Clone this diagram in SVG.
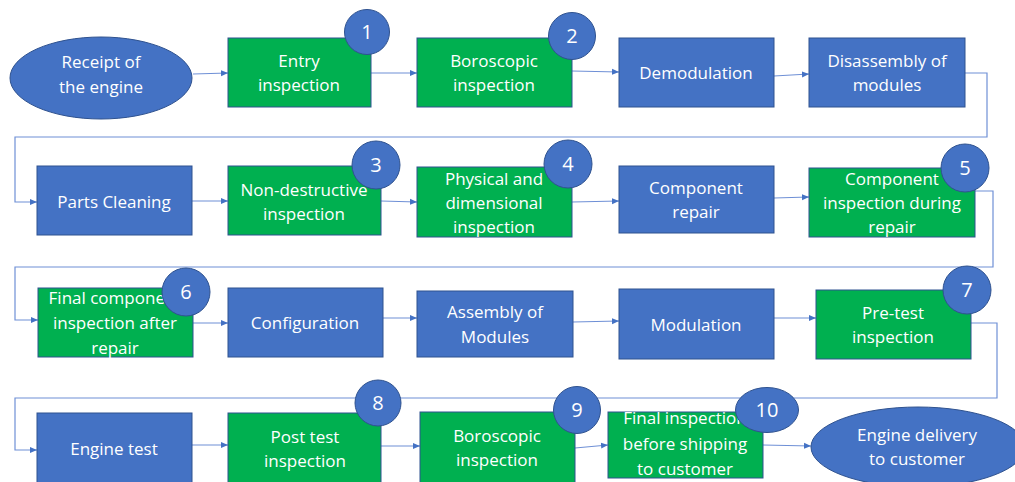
<svg xmlns="http://www.w3.org/2000/svg" width="1015" height="482" viewBox="0 0 1015 482">
<defs>
<marker id="ah" markerWidth="8" markerHeight="8" refX="7" refY="4" orient="auto" markerUnits="userSpaceOnUse">
<path d="M0,1 L7,4 L0,7 Z" fill="#4472C4"/>
</marker>
<style>
.blue{fill:#4472C4;stroke:#2F528F;stroke-width:1}
.green{fill:#00B050;stroke:#2F528F;stroke-width:1}
.badge{fill:#4472C4;stroke:#2F528F;stroke-width:1}
text{font-family:"Open Sans","Noto Sans",sans-serif;font-size:17px;fill:#FFFFFF;text-anchor:middle}
.num{font-size:20px}
#connectors path{fill:none;stroke:#6F90D6;stroke-width:1.2;marker-end:url(#ah)}
</style>
</defs>
<rect width="1015" height="482" fill="#FFFFFF"/>
<g id="connectors">
<path d="M193,74 L228,73"/>
<path d="M371,73 L417,73"/>
<path d="M572,71 L619,72"/>
<path d="M774,76 L809,74"/>
<path d="M965,73 L987,73 L987,137 L15,137 L15,202 L37,202"/>
<path d="M192,201 L228,201"/>
<path d="M381,201 L417,202"/>
<path d="M572,202 L619,201"/>
<path d="M774,198 L809,197"/>
<path d="M975,191 L993,191 L993,267 L15,267 L15,320 L38,320"/>
<path d="M193,323 L228,323"/>
<path d="M383,318 L417,318"/>
<path d="M573,322 L619,321"/>
<path d="M774,318 L816,318"/>
<path d="M971,323 L997,323 L997,398 L15,398 L15,450 L37,450"/>
<path d="M192,445 L228,445"/>
<path d="M381,446 L420,446"/>
<path d="M575,448 L608,445"/>
<path d="M763,445 L811,446"/>
</g>
<g id="receipt">
<ellipse class="blue" cx="101" cy="78" rx="91" ry="41"/>
<text x="101" y="68">Receipt of</text>
<text x="101" y="93">the engine</text>
</g>
<g id="entry">
<rect class="green" x="228" y="38" width="143" height="69"/>
<text x="299" y="67">Entry</text>
<text x="299" y="91">inspection</text>
<circle class="badge" cx="367" cy="32" r="22.5"/>
<text class="num" x="367" y="39">1</text>
</g>
<g id="boroscopic1">
<rect class="green" x="417" y="38" width="155" height="69"/>
<text x="494" y="67">Boroscopic</text>
<text x="494" y="91">inspection</text>
<circle class="badge" cx="572" cy="36" r="23.5"/>
<text class="num" x="572" y="43">2</text>
</g>
<g id="demodulation">
<rect class="blue" x="619" y="38" width="155" height="69"/>
<text x="696" y="79">Demodulation</text>
</g>
<g id="disassembly">
<rect class="blue" x="809" y="38" width="156" height="69"/>
<text x="887" y="67">Disassembly of</text>
<text x="887" y="91">modules</text>
</g>
<g id="cleaning">
<rect class="blue" x="37" y="166" width="155" height="69"/>
<text x="114" y="208">Parts Cleaning</text>
</g>
<g id="ndi">
<rect class="green" x="228" y="166" width="153" height="69"/>
<text x="304" y="196">Non-destructive</text>
<text x="304" y="220">inspection</text>
<circle class="badge" cx="376" cy="165" r="24"/>
<text class="num" x="376" y="172">3</text>
</g>
<g id="physical">
<rect class="green" x="417" y="167" width="155" height="70"/>
<text x="494" y="185">Physical and</text>
<text x="494" y="209">dimensional</text>
<text x="494" y="233">inspection</text>
<circle class="badge" cx="568" cy="164" r="24"/>
<text class="num" x="568" y="171">4</text>
</g>
<g id="repair">
<rect class="blue" x="619" y="166" width="155" height="67"/>
<text x="696" y="194">Component</text>
<text x="696" y="218">repair</text>
</g>
<g id="during">
<rect class="green" x="809" y="168" width="166" height="69"/>
<text x="892" y="185">Component</text>
<text x="892" y="209">inspection during</text>
<text x="892" y="233">repair</text>
<circle class="badge" cx="965" cy="168" r="24"/>
<text class="num" x="965" y="175">5</text>
</g>
<g id="final-component">
<rect class="green" x="38" y="288" width="155" height="69"/>
<text x="115" y="304">Final component</text>
<text x="115" y="329">inspection after</text>
<text x="115" y="354">repair</text>
<circle class="badge" cx="186" cy="292" r="24"/>
<text class="num" x="186" y="299">6</text>
</g>
<g id="configuration">
<rect class="blue" x="228" y="288" width="155" height="69"/>
<text x="305" y="329">Configuration</text>
</g>
<g id="assembly">
<rect class="blue" x="417" y="291" width="156" height="66"/>
<text x="495" y="318">Assembly of</text>
<text x="495" y="343">Modules</text>
</g>
<g id="modulation">
<rect class="blue" x="619" y="289" width="155" height="70"/>
<text x="696" y="331">Modulation</text>
</g>
<g id="pretest">
<rect class="green" x="816" y="290" width="155" height="69"/>
<text x="893" y="319">Pre-test</text>
<text x="893" y="343">inspection</text>
<circle class="badge" cx="967" cy="290" r="24"/>
<text class="num" x="967" y="297">7</text>
</g>
<g id="engine-test">
<rect class="blue" x="37" y="413" width="155" height="75"/>
<text x="114" y="455">Engine test</text>
</g>
<g id="posttest">
<rect class="green" x="228" y="413" width="153" height="75"/>
<text x="305" y="443">Post test</text>
<text x="305" y="467">inspection</text>
<circle class="badge" cx="378" cy="403" r="23"/>
<text class="num" x="378" y="410">8</text>
</g>
<g id="boroscopic2">
<rect class="green" x="420" y="412" width="155" height="76"/>
<text x="497" y="442">Boroscopic</text>
<text x="497" y="466">inspection</text>
<circle class="badge" cx="577" cy="410" r="23.5"/>
<text class="num" x="577" y="417">9</text>
</g>
<g id="final-shipping">
<rect class="green" x="608" y="412" width="155" height="66"/>
<text x="685" y="424">Final inspection</text>
<text x="685" y="450">before shipping</text>
<text x="685" y="475">to customer</text>
<ellipse class="badge" cx="767" cy="410" rx="31.5" ry="22.5"/>
<text class="num" x="767" y="417">10</text>
</g>
<g id="delivery">
<ellipse class="blue" cx="918" cy="447" rx="107" ry="40"/>
<text x="917" y="441">Engine delivery</text>
<text x="917" y="465">to customer</text>
</g>
</svg>
